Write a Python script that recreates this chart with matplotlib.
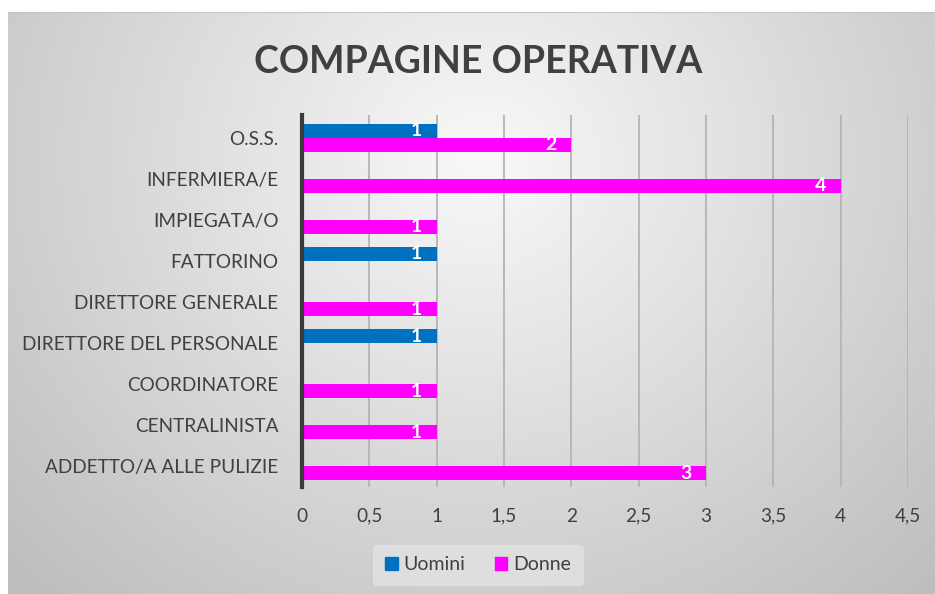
import numpy as np
import matplotlib

matplotlib.use("Agg")
import matplotlib.pyplot as plt
from matplotlib.patches import Patch

plt.rcParams["font.family"] = ["Lato", "DejaVu Sans"]

# ---------- dati ----------
categorie = [
    "ADDETTO/A ALLE PULIZIE",
    "CENTRALINISTA",
    "COORDINATORE",
    "DIRETTORE DEL PERSONALE",
    "DIRETTORE GENERALE",
    "FATTORINO",
    "IMPIEGATA/O",
    "INFERMIERA/E",
    "O.S.S.",
]
uomini = [0, 0, 0, 1, 0, 1, 0, 0, 1]
donne = [3, 1, 1, 0, 1, 0, 1, 4, 2]
x_ticks = [0, 0.5, 1, 1.5, 2, 2.5, 3, 3.5, 4, 4.5]
x_labels = ["0", "0,5", "1", "1,5", "2", "2,5", "3", "3,5", "4", "4,5"]

BLU = "#0070C0"
MAGENTA = "#FF00FF"
TESTO = "#404040"

fig = plt.figure(figsize=(9.35, 5.94), dpi=100)
fig.patch.set_facecolor("white")

# ---------- sfondo sfumato ----------
bg = fig.add_axes([8 / 935, 0, 927 / 935, 582 / 594])
bg.set_axis_off()
gx, gy = np.meshgrid(np.linspace(-1, 1, 400), np.linspace(-1, 1, 260))
d = np.sqrt(((gx - 0.02) / 1.15) ** 2 + ((gy - 0.5) / 1.7) ** 2)
val = 0.975 - 0.19 * np.clip(d, 0, 1.2)
bg.imshow(np.dstack([val, val, val]), extent=[0, 1, 0, 1], origin="lower",
          aspect="auto")
bg.plot([0, 1], [1, 1], color="#c4c4c4", lw=1.5, transform=bg.transAxes)

# ---------- grafico ----------
ax = fig.add_axes([302 / 935, 107 / 594, 606 / 935, 372 / 594])
ax.set_facecolor("none")

y = np.arange(len(categorie))
h = 0.34
b1 = ax.barh(y + h / 2, uomini, height=h, color=BLU, label="Uomini", zorder=3)
b2 = ax.barh(y - h / 2, donne, height=h, color=MAGENTA, label="Donne", zorder=3)

for bars in (b1, b2):
    for r in bars:
        w = r.get_width()
        if w > 0:
            ax.text(w - 0.11, r.get_y() + r.get_height() / 2, f"{w:g}",
                    ha="right", va="center", color="white", fontsize=14,
                    fontweight="bold", zorder=4)

ax.set_xlim(0, 4.5)
ax.set_ylim(-0.5, len(categorie) - 0.45)
ax.set_xticks(x_ticks)
ax.set_xticklabels(x_labels)
ax.set_yticks(y)
ax.set_yticklabels(categorie)
ax.tick_params(axis="both", length=0, labelsize=13.7, colors=TESTO)
ax.tick_params(axis="x", pad=15)
ax.tick_params(axis="y", pad=17)

ax.grid(axis="x", color="#b4b4b4", lw=1.3, zorder=0)
for s in ("top", "right", "bottom"):
    ax.spines[s].set_visible(False)
ax.spines["left"].set_color("#3a3a3a")
ax.spines["left"].set_linewidth(3)
ax.spines["left"].set_zorder(5)

fig.text(478 / 935, 1 - 62 / 594, "COMPAGINE OPERATIVA", ha="center",
         va="center", fontsize=27, fontweight="bold", color=TESTO)

handles = [Patch(color=BLU, label="Uomini"), Patch(color=MAGENTA, label="Donne")]
leg = fig.legend(handles=handles, loc="center", ncol=2,
                 bbox_to_anchor=(478 / 935, 1 - 565 / 594), frameon=True,
                 fontsize=14, handlelength=0.65, handleheight=0.65,
                 handletextpad=0.3, columnspacing=1.5, borderpad=0.6,
                 borderaxespad=0)
leg.get_frame().set_facecolor("#e2e2e2")
leg.get_frame().set_edgecolor("#e2e2e2")
leg.get_frame().set_alpha(0.8)
for t in leg.get_texts():
    t.set_color(TESTO)

fig.savefig("out.png", dpi=100, facecolor="white")
